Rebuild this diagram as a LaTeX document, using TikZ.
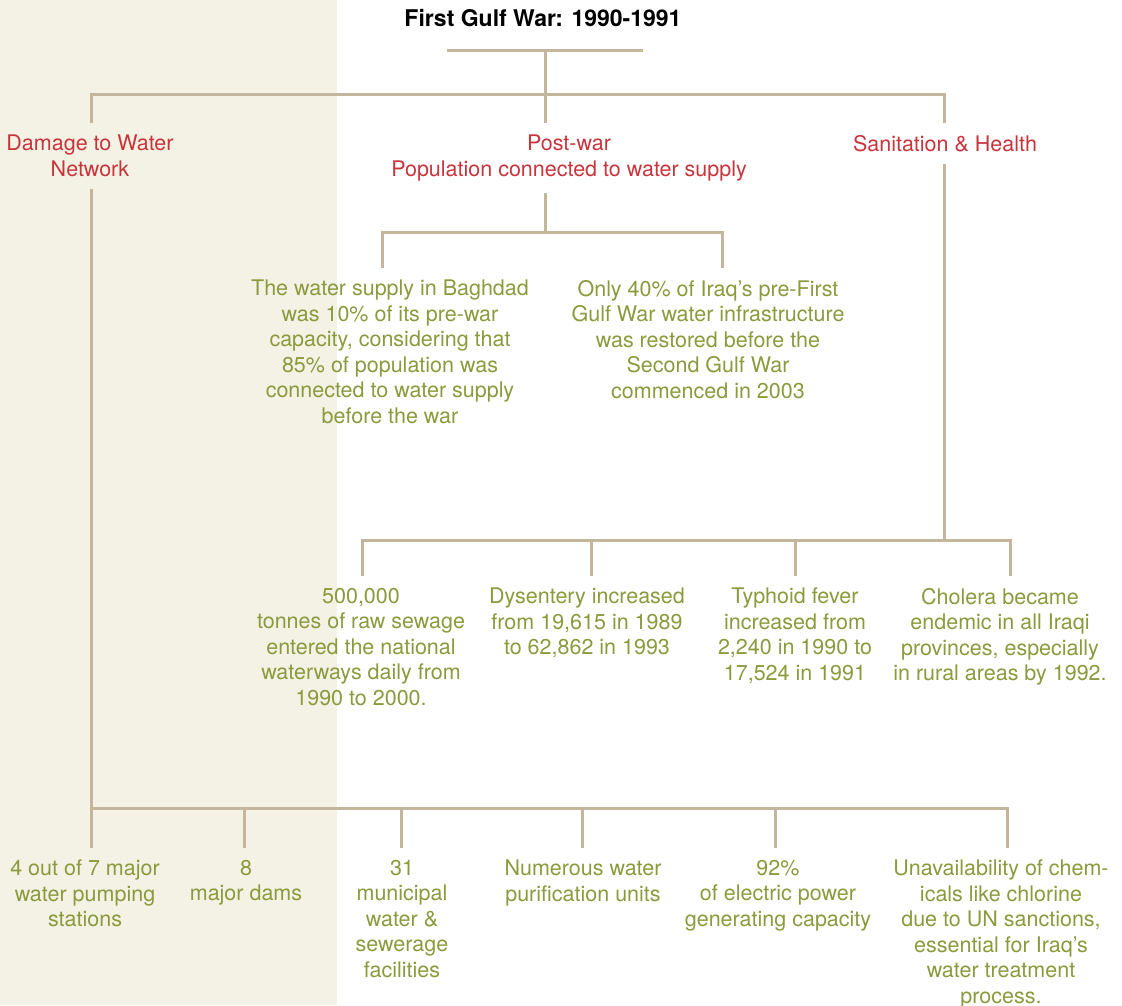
\documentclass[tikz,border=0pt]{standalone}
\usepackage{fontspec}
\setmainfont{TeX Gyre Heros}
\definecolor{bgc}{HTML}{F4F2E4}
\definecolor{redc}{HTML}{C8343B}
\definecolor{greenc}{HTML}{8A9A3C}
\definecolor{tanc}{HTML}{C4B69C}
\begin{document}
\begin{tikzpicture}[x=1pt,y=-1pt,
  conn/.style={draw=tanc,line width=3pt},
  txt/.style={anchor=north,align=center,inner xsep=0pt,inner ysep=12pt,font=\fontsize{21.5}{25.5}\selectfont},
  head/.style={txt,text=redc},
  leaf/.style={txt,text=greenc}]
\useasboundingbox (0,0) rectangle (1122,1005);
\fill[bgc] (0,0) rectangle (337,1005);
% title
\node[anchor=center,inner sep=0pt,font=\fontsize{23}{26}\selectfont\bfseries] (title) at (543,18) {First Gulf War: 1990-1991};
% headings
\node[head] (dmg) at (90,123) {Damage to Water\\Network};
\node[head] (post) at (569,123) {Post-war\\Population connected to water supply};
\node[head] (san) at (945,123) {Sanitation \& Health};
% post-war leaves
\node[leaf] (b1) at (390,268) {The water supply in Baghdad\\was 10\% of its pre-war\\capacity, considering that\\85\% of population was\\connected to water supply\\before the war};
\node[leaf] (b2) at (708,268) {Only 40\% of Iraq’s pre-First\\Gulf War water infrastructure\\was restored before the\\Second Gulf War\\commenced in 2003};
% sanitation leaves
\node[leaf] (s1) at (361,576) {500,000\\tonnes of raw sewage\\entered the national\\waterways daily from\\1990 to 2000.};
\node[leaf] (s2) at (587,576) {Dysentery increased\\from 19,615 in 1989\\to 62,862 in 1993};
\node[leaf] (s3) at (795,576) {Typhoid fever\\increased from\\2,240 in 1990 to\\17,524 in 1991};
\node[leaf] (s4) at (1000,576) {Cholera became\\endemic in all Iraqi\\provinces, especially\\in rural areas by 1992.};
% damage leaves
\node[leaf] (d1) at (85,848) {4 out of 7 major\\water pumping\\stations};
\node[leaf] (d2) at (246,848) {8\\major dams};
\node[leaf] (d3) at (402,848) {31\\municipal\\water \&\\sewerage\\facilities};
\node[leaf] (d4) at (583,848) {Numerous water\\purification units};
\node[leaf] (d5) at (778,848) {92\%\\of electric power\\generating capacity};
\node[leaf] (d6) at (1001,848) {Unavailability of chem-\\icals like chlorine\\due to UN sanctions,\\essential for Iraq’s\\water treatment\\process.};
% connectors: top
\coordinate (u1) at (447,50);
\coordinate (u2) at (643,50);
\coordinate (pj) at (545,50);
\coordinate (hb1) at (91,94);
\coordinate (hb2) at (944,94);
\draw[conn] (u1) -- (u2);
\draw[conn] (pj) -- (pj |- post.north);
\draw[conn] (hb1 |- dmg.north) -- (hb1) -- (hb2) -- (hb2 |- san.north);
% post-war branch
\coordinate (pd) at (545,232);
\coordinate (pb1) at (382,232);
\coordinate (pb2) at (722,232);
\draw[conn] (pd |- post.south) -- (pd);
\draw[conn] (pb1 |- b1.north) -- (pb1) -- (pb2) -- (pb2 |- b2.north);
% sanitation branch
\coordinate (sd) at (944,540);
\coordinate (sb1) at (362,540);
\coordinate (sb2) at (591,540);
\coordinate (sb3) at (795,540);
\coordinate (sb4) at (1010,540);
\draw[conn] (sd |- san.south) -- (sd);
\draw[conn] (sb1 |- s1.north) -- (sb1) -- (sb4) -- (sb4 |- s4.north);
\draw[conn] (sb2) -- (sb2 |- s2.north);
\draw[conn] (sb3) -- (sb3 |- s3.north);
% damage branch
\coordinate (db1) at (91,808);
\coordinate (db2) at (244,808);
\coordinate (db3) at (401,808);
\coordinate (db4) at (582,808);
\coordinate (db5) at (775,808);
\coordinate (db6) at (1007,808);
\draw[conn] (db1 |- dmg.south) -- (db1) -- (db6) -- (db6 |- d6.north);
\draw[conn] (db1) -- (db1 |- d1.north);
\draw[conn] (db2) -- (db2 |- d2.north);
\draw[conn] (db3) -- (db3 |- d3.north);
\draw[conn] (db4) -- (db4 |- d4.north);
\draw[conn] (db5) -- (db5 |- d5.north);
\end{tikzpicture}
\end{document}
